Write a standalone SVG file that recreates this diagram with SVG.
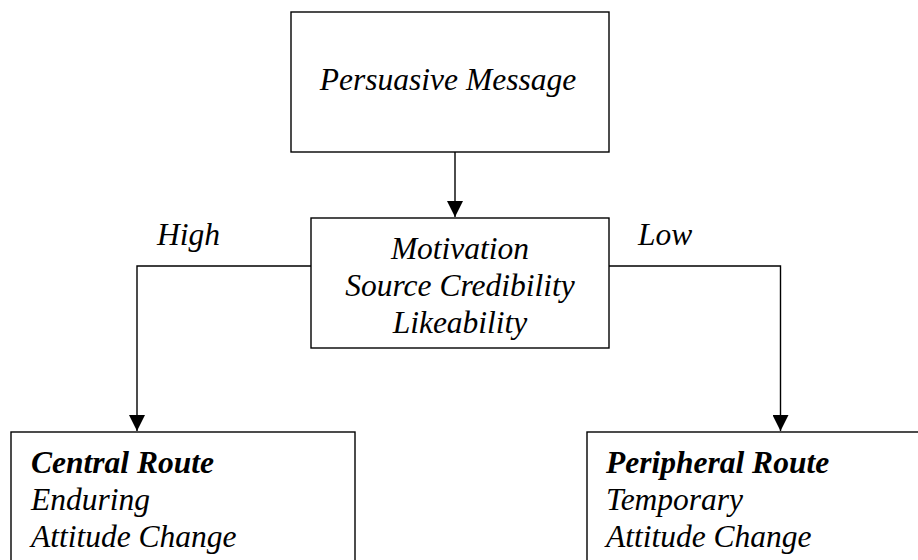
<svg xmlns="http://www.w3.org/2000/svg" width="918" height="560" viewBox="0 0 918 560">
<defs>
<marker id="ah" markerUnits="userSpaceOnUse" markerWidth="16" markerHeight="16" viewBox="0 0 16 16" refX="16" refY="8" orient="auto">
<path d="M0,0 L16,8 L0,16 Z" fill="#000"/>
</marker>
</defs>
<rect width="918" height="560" fill="#fff"/>
<g id="connectors" fill="none" stroke="#000" stroke-width="1.4">
<path d="M455,152 V217" marker-end="url(#ah)"/>
<path d="M311,266 H137 V431" marker-end="url(#ah)"/>
<path d="M609,266 H780.5 V431" marker-end="url(#ah)"/>
</g>
<g id="persuasive-message">
<rect x="291" y="12" width="318" height="140" fill="#fff" stroke="#000" stroke-width="1.4"/>
<text font-family="'Liberation Serif', 'Times New Roman', serif" font-style="italic" font-size="31.5" text-anchor="middle" x="448" y="90">Persuasive Message</text>
</g>
<g id="factors">
<rect x="311" y="218" width="298" height="130" fill="#fff" stroke="#000" stroke-width="1.4"/>
<text font-family="'Liberation Serif', 'Times New Roman', serif" font-style="italic" font-size="31.5" text-anchor="middle" x="460" y="259">Motivation</text>
<text font-family="'Liberation Serif', 'Times New Roman', serif" font-style="italic" font-size="31.5" text-anchor="middle" x="460" y="296">Source Credibility</text>
<text font-family="'Liberation Serif', 'Times New Roman', serif" font-style="italic" font-size="31.5" text-anchor="middle" x="460" y="333">Likeability</text>
</g>
<g id="label-high"><text font-family="'Liberation Serif', 'Times New Roman', serif" font-style="italic" font-size="31.5" x="157" y="245">High</text></g>
<g id="label-low"><text font-family="'Liberation Serif', 'Times New Roman', serif" font-style="italic" font-size="31.5" x="638" y="245">Low</text></g>
<g id="central-route">
<rect x="11" y="432" width="344" height="140" fill="#fff" stroke="#000" stroke-width="1.4"/>
<text font-family="'Liberation Serif', 'Times New Roman', serif" font-style="italic" font-weight="bold" font-size="31.5" x="31" y="473">Central Route</text>
<text font-family="'Liberation Serif', 'Times New Roman', serif" font-style="italic" font-size="31.5" x="31" y="510">Enduring</text>
<text font-family="'Liberation Serif', 'Times New Roman', serif" font-style="italic" font-size="31.5" x="31" y="547">Attitude Change</text>
</g>
<g id="peripheral-route">
<rect x="587" y="432" width="340" height="140" fill="#fff" stroke="#000" stroke-width="1.4"/>
<text font-family="'Liberation Serif', 'Times New Roman', serif" font-style="italic" font-weight="bold" font-size="31.5" x="606" y="473">Peripheral Route</text>
<text font-family="'Liberation Serif', 'Times New Roman', serif" font-style="italic" font-size="31.5" x="606" y="510">Temporary</text>
<text font-family="'Liberation Serif', 'Times New Roman', serif" font-style="italic" font-size="31.5" x="606" y="547">Attitude Change</text>
</g>
</svg>
